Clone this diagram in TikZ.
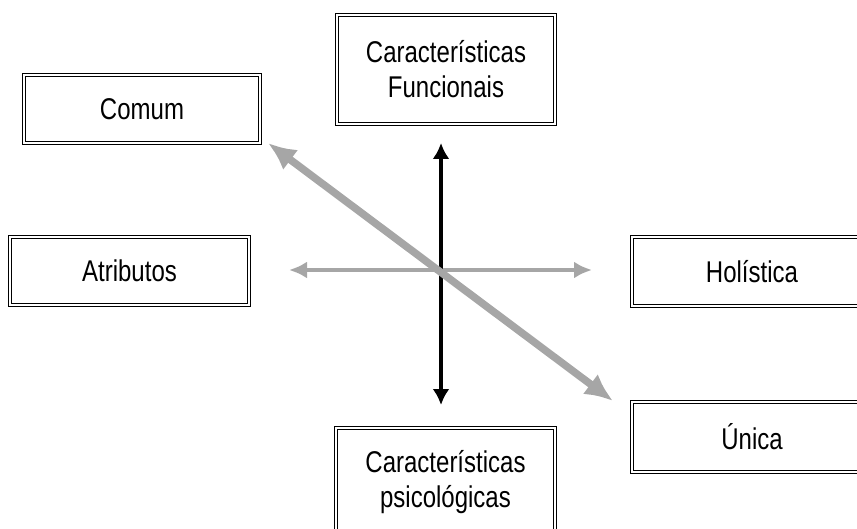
\documentclass[tikz,border=0pt]{standalone}
\usepackage{fontspec}
\setmainfont{Liberation Sans}[FakeStretch=0.8]
\usetikzlibrary{arrows.meta}
\definecolor{cinza}{RGB}{166,166,166}
\tikzset{
  caixa/.style={draw, double, line width=1.2pt, double distance=1.5pt,
    inner sep=0pt, align=center, font=\fontsize{30}{35}\selectfont},
}
\begin{document}
\begin{tikzpicture}[x=1pt,y=-1pt]
			\useasboundingbox (0,0) rectangle (857,529);
			\clip (0,0) rectangle (857,529);
			% caixas
			\node[caixa,minimum width=236pt,minimum height=68pt] (comum) at (142,109) {Comum};
			\node[caixa,minimum width=218pt,minimum height=109pt] (funcionais) at (446,69.5) {Características\\Funcionais};
			\node[caixa,minimum width=239pt,minimum height=68pt] (atributos) at (129.5,271) {Atributos};
			\node[caixa,minimum width=240pt,minimum height=69pt] (holistica) at (752,271.5) {Holística};
			\node[caixa,minimum width=240pt,minimum height=70pt] (unica) at (752,437) {Única};
			\node[caixa,minimum width=219pt,minimum height=109pt] (psicologicas) at (445.5,482.5) {Características\\psicológicas};

			% eixos
			\coordinate (cima) at (441,143);
			\coordinate (baixo) at (441,405);
			\coordinate (esq) at (289,270);
			\coordinate (dir) at (592,270);
			\coordinate (nw) at (268,143);
			\coordinate (se) at (613,401);
			\draw[cinza,line width=4.5pt,{Latex[length=18pt,width=17pt]}-{Latex[length=18pt,width=17pt]}] (esq) -- (dir);
			\draw[black,line width=3.5pt,{Latex[length=16pt,width=17pt]}-{Latex[length=16pt,width=17pt]}] (baixo) -- (cima);
			\draw[cinza,line width=7.5pt,{Latex[length=28pt,width=25pt]}-{Latex[length=28pt,width=25pt]}] (nw) -- (se);
		    \end{tikzpicture}
\end{document}
